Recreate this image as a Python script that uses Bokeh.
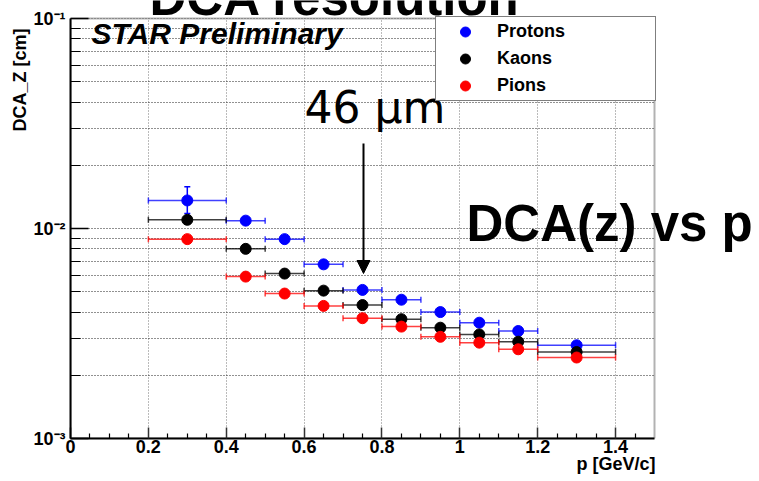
import math
from bokeh.plotting import figure
from bokeh.models import (ColumnDataSource, Whisker, TeeHead, Arrow, NormalHead, Label,
                          FixedTicker, Legend, LegendItem, Range1d, BoxAnnotation, Title)
from bokeh.embed import file_html
from bokeh.resources import INLINE

# ---------------- data ----------------
p_center = [0.3, 0.45, 0.55, 0.65, 0.75, 0.85, 0.95, 1.05, 1.15, 1.3]
p_low = [0.2, 0.4, 0.5, 0.6, 0.7, 0.8, 0.9, 1.0, 1.1, 1.2]
p_high = [0.4, 0.5, 0.6, 0.7, 0.8, 0.9, 1.0, 1.1, 1.2, 1.4]
protons = [0.0136, 0.0109, 0.0089, 0.00675, 0.0051, 0.00458, 0.0040, 0.00356, 0.00325, 0.00278]
kaons = [0.0110, 0.0080, 0.0061, 0.00506, 0.00432, 0.0037, 0.00337, 0.00313, 0.00289, 0.00258]
pions = [0.0089, 0.0059, 0.0049, 0.00428, 0.00374, 0.00341, 0.00305, 0.00286, 0.00266, 0.00243]
proton_first_err = [0.0118, 0.0158]   # vertical error on first proton point

series_names = ["Protons", "Kaons", "Pions"]
series_colors = ["#0000ff", "#000000", "#ff0000"]

x_major = [0, 0.2, 0.4, 0.6, 0.8, 1.0, 1.2, 1.4]
x_major_labels = ["0", "0.2", "0.4", "0.6", "0.8", "1", "1.2", "1.4"]
x_minor = [0.05, 0.1, 0.15, 0.25, 0.3, 0.35, 0.45, 0.5, 0.55, 0.65, 0.7, 0.75,
           0.85, 0.9, 0.95, 1.05, 1.1, 1.15, 1.25, 1.3, 1.35, 1.45]
y_major = [1e-3, 1e-2, 1e-1]
y_major_labels = ["10\u207b\u00b3", "10\u207b\u00b2", "10\u207b\u00b9"]
y_minor = [m * d for d in (1e-3, 1e-2) for m in range(2, 10)]

title_text = "DCA resolution"
xlabel = "p [GeV/c]"
ylabel = "DCA_Z [cm]"

# ---------------- layout ----------------
W, H = 759, 481
FL, FR, FT, FB = 70, 654, 18, 438      # pixel box of the data area
X0, X1 = 0.0, 1.5
Y0, Y1 = 1e-3, 1e-1


def dx(px):
    return X0 + (px - FL) / (FR - FL) * (X1 - X0)


def dy(py):
    l0, l1 = math.log10(Y0), math.log10(Y1)
    return 10 ** (l1 - (py - FT) / (FB - FT) * (l1 - l0))


# the frame reaches the top and right canvas edges so that overlay texts are not clipped
p = figure(width=W, height=H, output_backend="svg", toolbar_location=None,
           x_range=Range1d(X0, dx(W)), y_range=Range1d(Y0, dy(0)), y_axis_type="log",
           min_border_left=FL, min_border_right=0, min_border_top=0,
           min_border_bottom=H - FB)
p.background_fill_color = "white"
p.border_fill_color = "white"
p.outline_line_color = None

BOLD = "Liberation Sans"

# axes
xa = p.xaxis[0]
xa.bounds = (X0, X1)
xa.ticker = FixedTicker(ticks=x_major, minor_ticks=x_minor)
xa.major_label_overrides = {float(t): l for t, l in zip(x_major, x_major_labels)}
xa.major_label_text_font = BOLD
xa.major_label_text_font_style = "bold"
xa.major_label_text_font_size = "18px"
xa.major_label_text_color = "black"
xa.major_label_standoff = 1
xa.major_tick_in = 11
xa.major_tick_out = 0
xa.minor_tick_in = 5
xa.minor_tick_out = 0
xa.axis_line_width = 2
xa.major_tick_line_width = 1.5
xa.minor_tick_line_width = 1.2
xa.major_tick_line_color = "#333333"

ya = p.yaxis[0]
ya.bounds = (Y0, Y1)
ya.ticker = FixedTicker(ticks=y_major, minor_ticks=y_minor)
ya.major_label_overrides = {float(t): l for t, l in zip(y_major, y_major_labels)}
ya.major_label_text_font = BOLD
ya.major_label_text_font_style = "bold"
ya.major_label_text_font_size = "18px"
ya.major_label_text_color = "black"
ya.major_label_standoff = 5
ya.major_tick_in = 18
ya.major_tick_out = 0
ya.minor_tick_in = 10
ya.minor_tick_out = 0
ya.axis_line_width = 2
ya.major_tick_line_width = 1.5
ya.minor_tick_line_width = 1.2

# axis titles, placed at the far ends as ROOT does
p.add_layout(Title(text=ylabel, align="right", vertical_align="middle", offset=28,
                   standoff=0, text_font=BOLD, text_font_style="bold",
                   text_font_size="18px", text_color="black"), "left")
p.add_layout(Title(text=xlabel, align="right", vertical_align="top", offset=104,
                   standoff=-4, text_font=BOLD, text_font_style="bold",
                   text_font_size="18px", text_color="black"), "below")

# grids
for g in p.xgrid:
    g.grid_line_color = "#777777"
    g.grid_line_dash = "1 2"
    g.grid_line_width = 1
    g.level = "image"
for g in p.ygrid:
    g.grid_line_color = "#222222"
    g.grid_line_dash = "1 2"
    g.grid_line_width = 1
    g.minor_grid_line_color = "#222222"
    g.minor_grid_line_dash = "1 2"
    g.minor_grid_line_width = 1
    g.level = "image"

# white strips hiding grid lines outside the data box
p.add_layout(BoxAnnotation(left=X1, right=dx(W), bottom=Y0, top=dy(0), fill_color="white",
                           fill_alpha=1, line_color=None, level="underlay"))
p.add_layout(BoxAnnotation(left=X0, right=dx(W), bottom=Y1, top=dy(0), fill_color="white",
                           fill_alpha=1, line_color=None, level="underlay"))

# ---------------- series ----------------
renderers = []
for name, vals, col in zip(series_names, [protons, kaons, pions], series_colors):
    src = ColumnDataSource(dict(x=p_center, y=vals, xlo=p_low, xhi=p_high))
    w = Whisker(source=src, base="y", lower="xlo", upper="xhi", dimension="width",
                line_color=col, line_alpha=0.75, line_width=1.5,
                upper_head=TeeHead(size=6, line_color=col, line_alpha=0.75, line_width=1.5),
                lower_head=TeeHead(size=6, line_color=col, line_alpha=0.75, line_width=1.5))
    p.add_layout(w)
    if name == "Protons":
        esrc = ColumnDataSource(dict(x=[p_center[0]], lo=[proton_first_err[0]],
                                     hi=[proton_first_err[1]]))
        ew = Whisker(source=esrc, base="x", lower="lo", upper="hi", dimension="height",
                     line_color=col, line_width=1.5,
                     upper_head=TeeHead(size=6, line_color=col, line_width=1.5),
                     lower_head=TeeHead(size=6, line_color=col, line_width=1.5))
        p.add_layout(ew)
    r = p.scatter("x", "y", source=src, size=11, fill_color=col, line_color=col)
    renderers.append(r)

# data box outline
p.add_layout(BoxAnnotation(left=X0, right=X1, bottom=Y0, top=Y1, fill_alpha=0,
                           line_color="black", line_width=2, level="overlay"))

LEG_PAD, LEG_ROW, LEG_SP = 2, 25, 2
leg_h = 2 * LEG_PAD + 3 * LEG_ROW + 2 * LEG_SP
legend = Legend(items=[LegendItem(label=n, renderers=[r]) for n, r in zip(series_names, renderers)],
                location=(435 - FL, FB - (17.5 + leg_h)), margin=0, padding=LEG_PAD,
                spacing=LEG_SP, glyph_width=54, glyph_height=LEG_ROW, label_standoff=5,
                label_width=156, label_text_font=BOLD, label_text_font_style="bold",
                label_text_font_size="18px", label_text_color="black",
                border_line_color="black", border_line_width=1,
                background_fill_color="white", background_fill_alpha=1)
p.add_layout(legend)

# ---------------- annotations ----------------
arrow_p = dx(363)
p.add_layout(Arrow(end=NormalHead(size=13, fill_color="black", line_color="black"),
                   x_start=arrow_p, y_start=dy(143), x_end=arrow_p, y_end=dy(273),
                   line_color="black", line_width=2))


def lab(text, px, py_base, size, shift, style="bold", font=BOLD, align="left"):
    # shift: measured gap between Bokeh's anchor and the drawn glyph baseline
    p.add_layout(Label(x=dx(px), y=dy(py_base - shift), text=text, text_font=font,
                       text_font_style=style, text_font_size=f"{size}px", text_color="black",
                       text_align=align, text_baseline="alphabetic"))


lab(title_text, 149, 16, 51, 19)
lab("STAR Preliminary", 91, 41.7, 30, 9, style="bold italic")
lab("46 \u00b5m", 304, 123.3, 44, 16.5, style="normal", font="DejaVu Sans")
lab("DCA(z) vs p", 466, 240.7, 51, 17.5)

open("out.html", "w").write(file_html(p, INLINE))
